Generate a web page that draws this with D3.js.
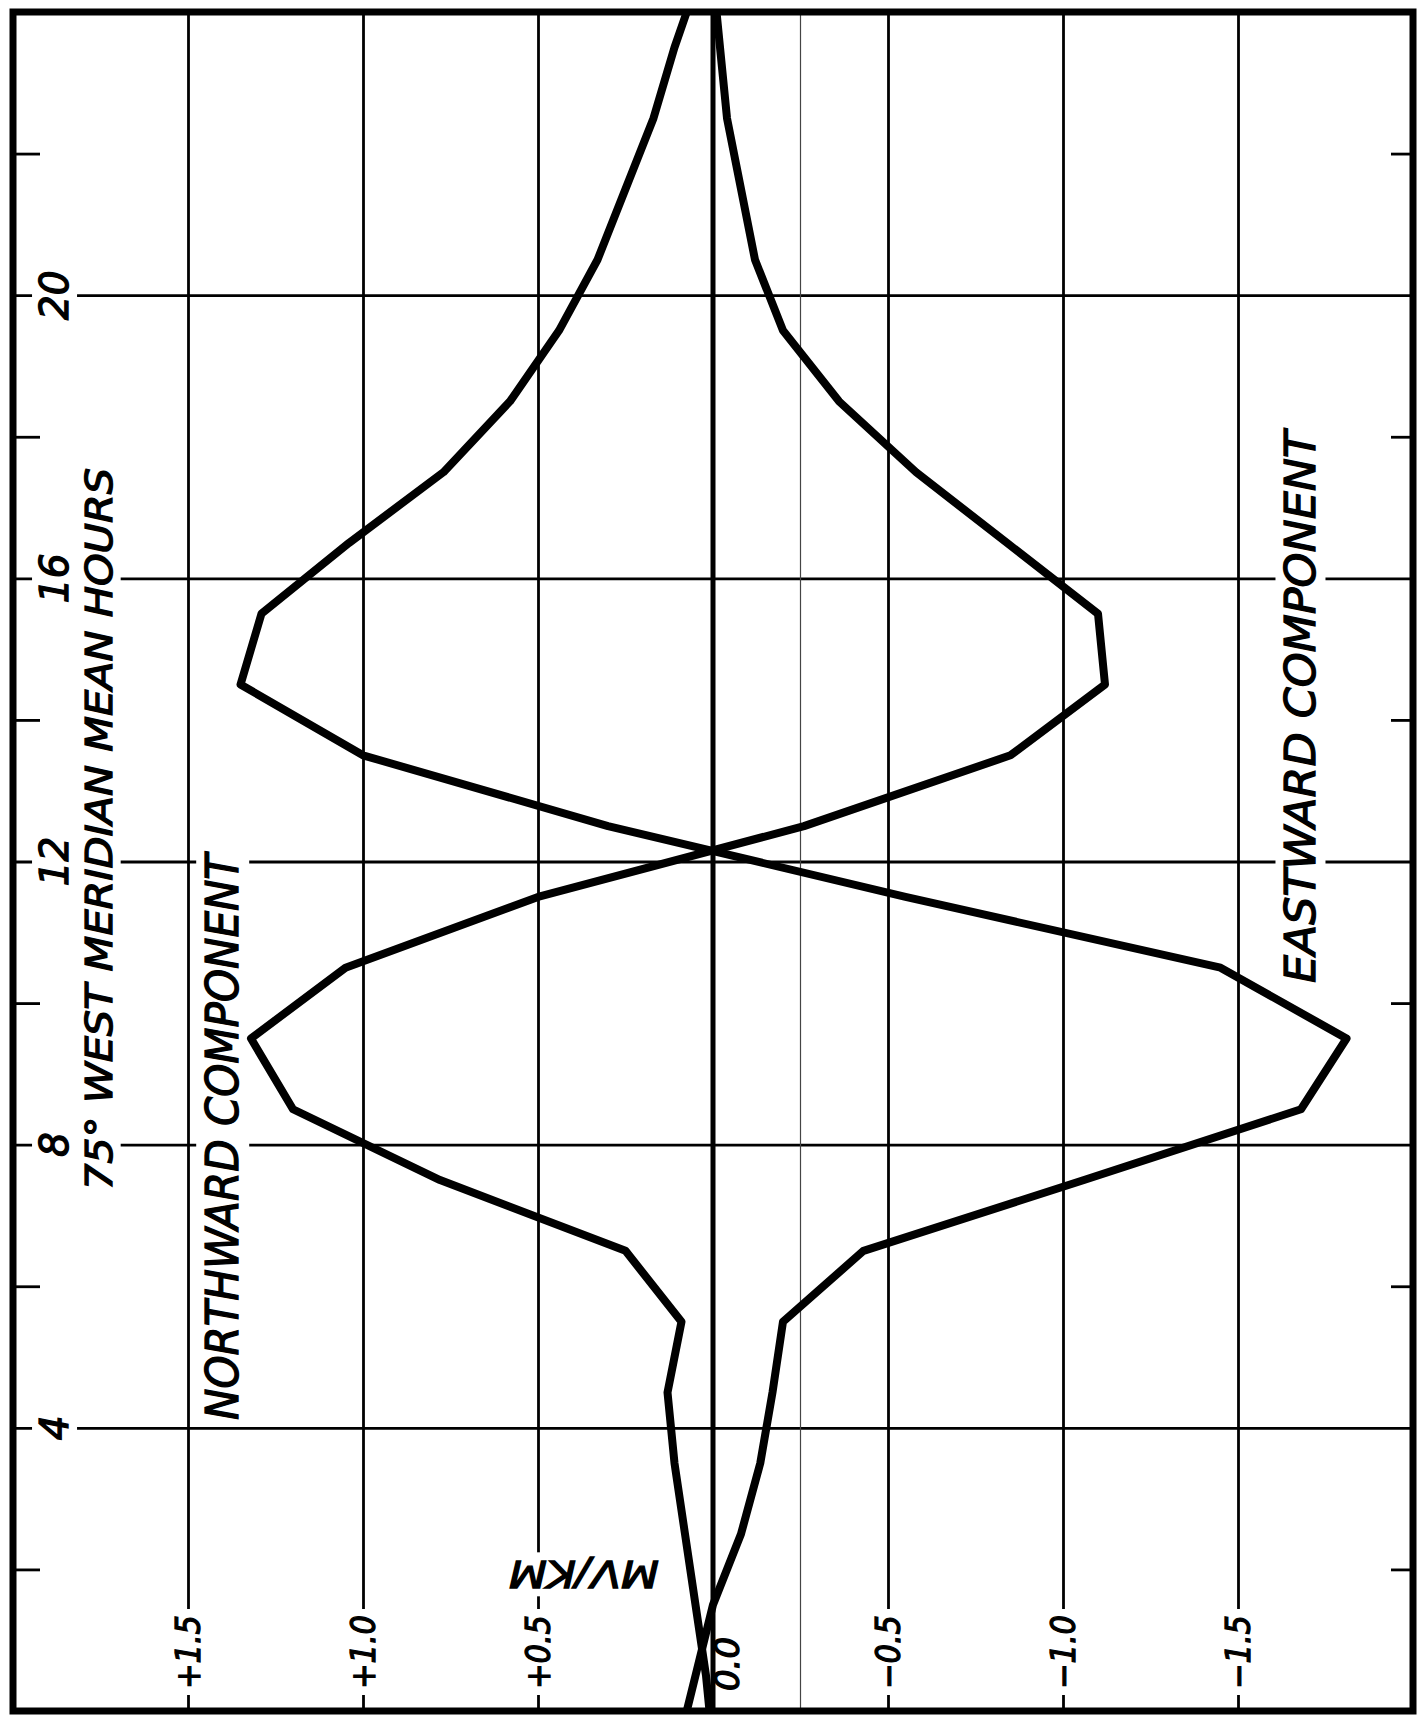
<!DOCTYPE html>
<html>
<head>
<meta charset="utf-8">
<script src="https://cdn.jsdelivr.net/npm/d3@7"></script>
<style>
    body { margin: 0; background: #fff; }
    svg { display: block; }
    text { font-family: "DejaVu Sans", sans-serif; font-style: italic; fill: #000; stroke: #000; stroke-width: 1.3px; }
</style>
</head>
<body>
<div id="chart"></div>
<script>
(function () {
    "use strict";

    // hourly means, plotted at the half hour (75° W meridian mean time)
    var hours = [0, 0.5, 1.5, 2.5, 3.5, 4.5, 5.5, 6.5, 7.5, 8.5, 9.5, 10.5, 11.5,
        12.5, 13.5, 14.5, 15.5, 16.5, 17.5, 18.5, 19.5, 20.5, 21.5, 22.5, 23.5, 24];
    var northward = [0.01, 0.02, 0.05, 0.08, 0.11, 0.13, 0.09, 0.25, 0.78, 1.20, 1.32, 1.05, 0.50,
        -0.26, -0.85, -1.12, -1.10, -0.84, -0.58, -0.36, -0.20, -0.12, -0.08, -0.04, -0.02, -0.01];
    var eastward = [0.075, 0.05, 0.0, -0.08, -0.135, -0.17, -0.20, -0.43, -1.06, -1.68, -1.81, -1.45, -0.55,
        0.30, 1.00, 1.35, 1.29, 1.04, 0.77, 0.58, 0.44, 0.33, 0.25, 0.17, 0.11, 0.075];

    var valueTicks = [1.5, 1.0, 0.5, 0, -0.5, -1.0, -1.5];
    var valueLabels = ["+1.5", "+1.0", "+0.5", "0.0", "\u22120.5", "\u22121.0", "\u22121.5"];
    var hourTicks = [4, 8, 12, 16, 20];
    var hourLabels = ["4", "8", "12", "16", "20"];
    var minorHours = [2, 6, 10, 14, 18, 22];

    var W = 1421, H = 1716,
        left = 13, right = 1413, top = 12, bottom = 1711;

    var x = d3.scaleLinear().domain([2, -2]).range([left, right]);
    var y = d3.scaleLinear().domain([0, 24]).range([bottom, top]);

    var svg = d3.select("#chart")
        .append("svg")
        .attr("width", W)
        .attr("height", H);

    svg.append("rect").attr("width", W).attr("height", H).attr("fill", "#fff");

    // grid from axes
    var vGrid = svg.append("g")
        .attr("transform", "translate(0," + bottom + ")")
        .call(d3.axisBottom(x).tickValues(valueTicks.filter(function (v) { return v !== 0; }))
            .tickSize(-(bottom - top)).tickFormat(""));

    var hGrid = svg.append("g")
        .attr("transform", "translate(" + left + ",0)")
        .call(d3.axisLeft(y).tickValues(hourTicks).tickSize(-(right - left)).tickFormat(""));

    var leftTicks = svg.append("g")
        .attr("transform", "translate(" + left + ",0)")
        .call(d3.axisLeft(y).tickValues(minorHours).tickSize(-27).tickFormat(""));

    var rightTicks = svg.append("g")
        .attr("transform", "translate(" + right + ",0)")
        .call(d3.axisRight(y).tickValues(minorHours).tickSize(-22).tickFormat(""));

    [vGrid, hGrid, leftTicks, rightTicks].forEach(function (g) {
        g.select(".domain").remove();
        g.selectAll("line").attr("stroke", "#000").attr("stroke-width", 2.8);
    });

    // odd thin line of the original sheet
    svg.append("line")
        .attr("x1", x(-0.25)).attr("x2", x(-0.25))
        .attr("y1", top).attr("y2", bottom)
        .attr("stroke", "#444").attr("stroke-width", 1.2);

    // text layer, each label blanks the grid behind it
    var labels = svg.append("g");

    var addLabel = function (str, cx, cy, size, angle, len, mask) {
        var g = labels.append("g")
            .attr("transform", "translate(" + cx + "," + cy + ") rotate(" + angle + ")");
        var t = g.append("text")
            .attr("text-anchor", "middle")
            .attr("y", 0.36 * size)
            .attr("font-size", size)
            .text(str);
        if (len) {
            t.attr("textLength", len).attr("lengthAdjust", "spacingAndGlyphs");
        }
        if (mask) {
            var b = t.node().getBBox();
            g.insert("rect", "text")
                .attr("x", b.x - 6).attr("y", b.y)
                .attr("width", b.width + 12).attr("height", b.height)
                .attr("fill", "#fff");
        }
        return t;
    };

    hourTicks.forEach(function (h, i) {
        addLabel(hourLabels[i], 54, y(h), 39, -90, null, true);
    });

    valueTicks.forEach(function (v, i) {
        if (v === 0) {
            addLabel(valueLabels[i], x(v) + 14, 1664, 34, -90, null, false);
        } else {
            addLabel(valueLabels[i], x(v), 1652, 34, -90, 74, true);
        }
    });

    addLabel("75\u00b0 WEST MERIDIAN MEAN HOURS", 98, 829, 38, -90, 722, true);
    addLabel("NORTHWARD COMPONENT", 222, 1137, 45, -90, 566, true);
    addLabel("EASTWARD COMPONENT", 1300, 707, 43, -90, 552, true);
    addLabel("MV/KM", 584, 1575, 38, 180, 150, true);

    // zero line sits on top of the label blanks
    svg.append("line")
        .attr("x1", x(0)).attr("x2", x(0))
        .attr("y1", top).attr("y2", bottom)
        .attr("stroke", "#000").attr("stroke-width", 5);

    var line = d3.line()
        .x(function (d) { return x(d[1]); })
        .y(function (d) { return y(d[0]); });

    var series = [northward, eastward];

    svg.append("g")
        .selectAll("path")
        .data(series)
        .enter()
        .append("path")
        .attr("d", function (s) { return line(hours.map(function (h, i) { return [h, s[i]]; })); })
        .attr("fill", "none")
        .attr("stroke", "#000")
        .attr("stroke-width", 8)
        .attr("stroke-linejoin", "round");

    svg.append("rect")
        .attr("x", left).attr("y", top)
        .attr("width", right - left).attr("height", bottom - top)
        .attr("fill", "none")
        .attr("stroke", "#000")
        .attr("stroke-width", 7);
})();
</script>
</body>
</html>
